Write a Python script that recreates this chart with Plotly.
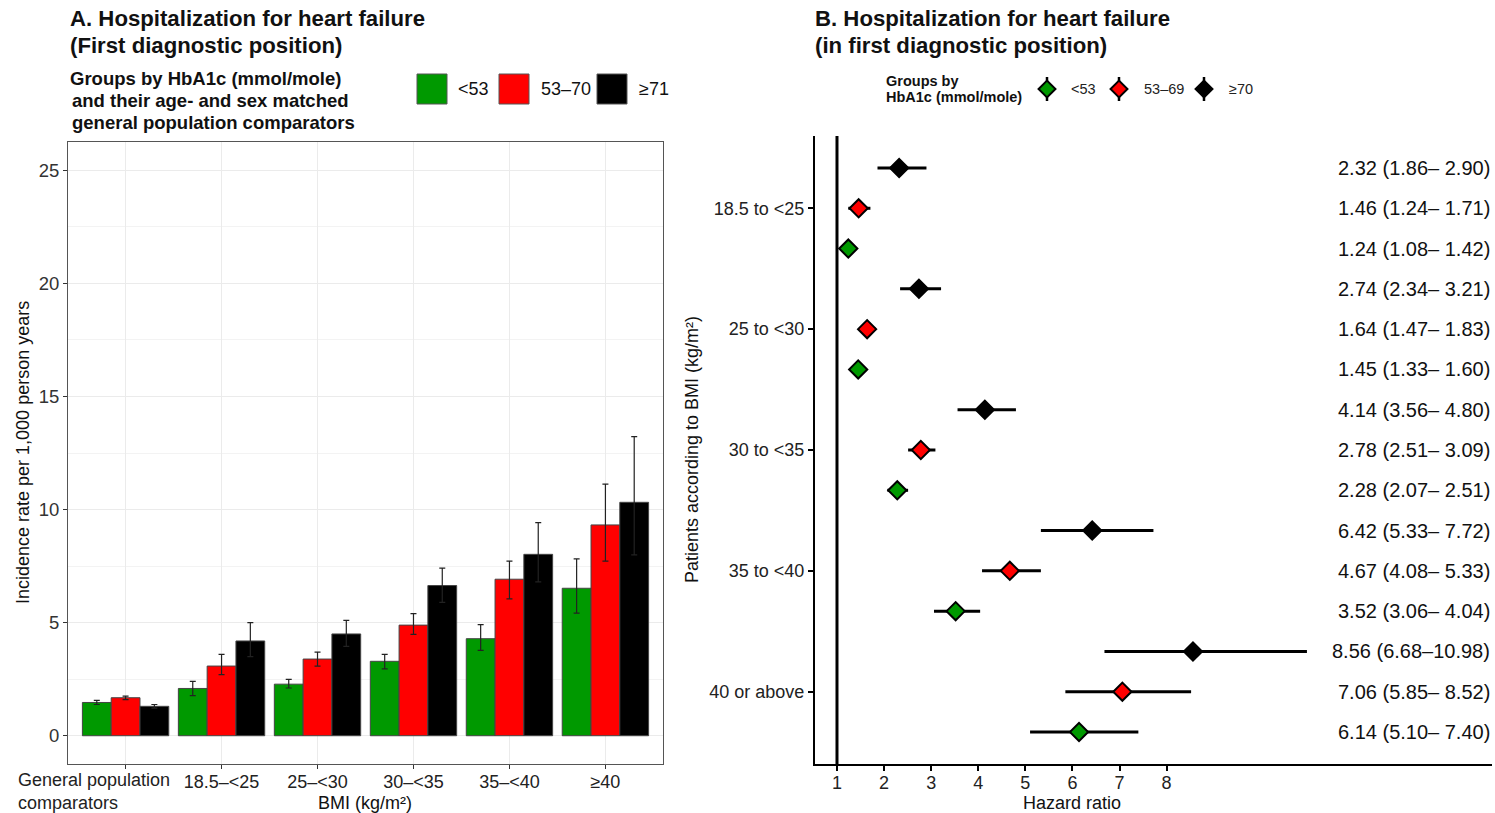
import plotly.graph_objects as go

W, H = 1495, 813
FONT = "Liberation Sans, Arial, Helvetica, sans-serif"

# ---------------- Panel A data ----------------
bmi_groups = ["General population comparators", "18.5–<25", "25–<30", "30–<35", "35–<40", "≥40"]
hba1c_a = ["<53", "53–70", "≥71"]
rate_lt53 = [1.47, 2.09, 2.28, 3.29, 4.29, 6.52]
rate_lt53_lo = [1.38, 1.77, 2.11, 2.96, 3.77, 5.42]
rate_lt53_hi = [1.56, 2.40, 2.49, 3.60, 4.91, 7.82]
rate_53_70 = [1.68, 3.08, 3.39, 4.89, 6.92, 9.32]
rate_53_70_lo = [1.60, 2.70, 3.08, 4.48, 6.05, 7.72]
rate_53_70_hi = [1.75, 3.60, 3.70, 5.40, 7.72, 11.12]
rate_ge71 = [1.30, 4.19, 4.50, 6.64, 8.02, 10.32]
rate_ge71_lo = [1.22, 3.50, 3.95, 5.90, 6.80, 8.00]
rate_ge71_hi = [1.38, 5.00, 5.10, 7.41, 9.42, 13.22]
y_ticks_a = [0, 5, 10, 15, 20, 25]

# ---------------- Panel B data ----------------
bmi_b = ["18.5 to <25", "25 to <30", "30 to <35", "35 to <40", "40 or above"]
hba1c_b = ["<53", "53–69", "≥70"]
hr_lt53 = [1.24, 1.45, 2.28, 3.52, 6.14]
hr_lt53_lo = [1.08, 1.33, 2.07, 3.06, 5.10]
hr_lt53_hi = [1.42, 1.60, 2.51, 4.04, 7.40]
hr_53_69 = [1.46, 1.64, 2.78, 4.67, 7.06]
hr_53_69_lo = [1.24, 1.47, 2.51, 4.08, 5.85]
hr_53_69_hi = [1.71, 1.83, 3.09, 5.33, 8.52]
hr_ge70 = [2.32, 2.74, 4.14, 6.42, 8.56]
hr_ge70_lo = [1.86, 2.34, 3.56, 5.33, 6.68]
hr_ge70_hi = [2.90, 3.21, 4.80, 7.72, 10.98]
x_ticks_b = [1, 2, 3, 4, 5, 6, 7, 8]

GREEN, RED, BLACK = "#009900", "#FF0000", "#000000"
colors = [GREEN, RED, BLACK]

fig = go.Figure()

# ---------------- Panel A bars ----------------
series_a = [
    (rate_lt53, rate_lt53_lo, rate_lt53_hi),
    (rate_53_70, rate_53_70_lo, rate_53_70_hi),
    (rate_ge71, rate_ge71_lo, rate_ge71_hi),
]
for name, col, (v, lo, hi) in zip(hba1c_a, colors, series_a):
    fig.add_trace(go.Bar(
        x=bmi_groups, y=v, name=name, xaxis="x", yaxis="y",
        marker=dict(color=col, line=dict(color="#444444", width=1)),
        error_y=dict(type="data", symmetric=False,
                     array=[h - a for h, a in zip(hi, v)],
                     arrayminus=[a - l for a, l in zip(v, lo)],
                     color="#222222", thickness=1.2, width=3),
        showlegend=False,
    ))

# ---------------- Panel B forest ----------------
series_b = [
    (hr_lt53, hr_lt53_lo, hr_lt53_hi, 1),
    (hr_53_69, hr_53_69_lo, hr_53_69_hi, 2),
    (hr_ge70, hr_ge70_lo, hr_ge70_hi, 3),
]
n = len(bmi_b)
for name, col, (v, lo, hi, off) in zip(hba1c_b, colors, series_b):
    ys = [3 * (n - 1 - g) + off for g in range(n)]
    fig.add_trace(go.Scatter(
        x=v, y=ys, mode="markers", name=name, xaxis="x2", yaxis="y2",
        marker=dict(symbol="diamond", size=14, color=col,
                    line=dict(color="black", width=2)),
        error_x=dict(type="data", symmetric=False,
                     array=[h - a for h, a in zip(hi, v)],
                     arrayminus=[a - l for a, l in zip(v, lo)],
                     color="black", thickness=3, width=0),
        showlegend=False,
    ))
    for val, l, h, yy in zip(v, lo, hi, ys):
        fig.add_annotation(
            x=1.0, y=yy, xref="x2 domain", yref="y2", xanchor="right", yanchor="middle",
            text=f"{val:.2f} ({l:.2f}–{h:5.2f})".replace("  ", " "), showarrow=False,
            font=dict(size=20, color="#111111", family=FONT))

# ---------------- overlay (pixel) axis for legends/titles ----------------
def px(x, y, text, size=18, bold=False, xanchor="left", yanchor="middle", color="#111111", align="left", angle=0):
    fig.add_annotation(x=x, y=y, xref="x3", yref="y3", text=f"<b>{text}</b>" if bold else text,
                       showarrow=False, xanchor=xanchor, yanchor=yanchor, align=align, textangle=angle,
                       font=dict(size=size, color=color, family=FONT))

# Titles
px(68, 18, "A. Hospitalization for heart failure", size=22.2, bold=True)
px(68, 45, "(First diagnostic position)", size=22.2, bold=True)
px(813, 18, "B. Hospitalization for heart failure", size=22.2, bold=True)
px(813, 45, "(in first diagnostic position)", size=22.2, bold=True)

# Legend A
px(68, 78, "Groups by HbA1c (mmol/mole)", size=18.5, bold=True)
px(70, 100, "and their age- and sex matched", size=18.5, bold=True)
px(70, 122, "general population comparators", size=18.5, bold=True)
leg_a_x = [417, 499, 597]
leg_a_tx = [456, 539, 637]
for lx, tx, col, lab in zip(leg_a_x, leg_a_tx, colors, hba1c_a):
    fig.add_shape(type="rect", xref="x3", yref="y3", x0=lx, x1=lx + 30, y0=74, y1=104,
                  fillcolor=col, line=dict(color="#555555", width=1))
    px(tx, 89, lab, size=18)

# Legend B
px(884, 81, "Groups by", size=14.5, bold=True)
px(884, 97, "HbA1c (mmol/mole)", size=14.5, bold=True)
leg_b_x = [1047, 1119, 1204]
leg_b_tx = [1069, 1142, 1227]
for lx, tx, col, lab in zip(leg_b_x, leg_b_tx, colors, hba1c_b):
    fig.add_trace(go.Scatter(x=[lx, lx], y=[77, 101], mode="lines", xaxis="x3", yaxis="y3",
                             line=dict(color="black", width=2.5), showlegend=False, hoverinfo="skip"))
    fig.add_trace(go.Scatter(x=[lx], y=[89], mode="markers", xaxis="x3", yaxis="y3",
                             marker=dict(symbol="diamond", size=13, color=col, line=dict(color="black", width=2)),
                             showlegend=False, hoverinfo="skip"))
    px(tx, 89, lab, size=14.5, color="#222222")

# Axis titles
px(23, 453, "Incidence rate per 1,000 person years", size=18, xanchor="center", angle=-90)
px(365, 803, "BMI (kg/m²)", size=18, xanchor="center")
px(16, 768, "General population<br>comparators", size=18, yanchor="top", color="#222222")
px(692, 450, "Patients according to BMI (kg/m²)", size=18, xanchor="center", angle=-90)
px(1072, 803, "Hazard ratio", size=18, xanchor="center")

# Reference line at HR = 1
fig.add_shape(type="line", xref="x2", yref="y2 domain", x0=1, x1=1, y0=0, y1=1,
              line=dict(color="black", width=3), layer="below")

fig.update_layout(
    width=W, height=H, margin=dict(l=0, r=0, t=0, b=0),
    paper_bgcolor="white", plot_bgcolor="rgba(0,0,0,0)",
    barmode="group", bargap=0.1, bargroupgap=0,
    font=dict(family=FONT, size=18, color="#222222"),
    showlegend=False,
    xaxis=dict(domain=[68 / W, 663 / W], type="category", range=[-0.6, 5.6],
               tickvals=bmi_groups, ticktext=[""] + bmi_groups[1:],
               showgrid=True, gridcolor="#EBEBEB", gridwidth=1.3,
               showline=True, mirror=True, linecolor="#555555", linewidth=1,
               ticks="outside", ticklen=4, tickcolor="#333333", ticklabelstandoff=-3,
               tickfont=dict(size=18, color="#222222"), zeroline=False, fixedrange=True),
    yaxis=dict(domain=[(H - 764) / H, (H - 142) / H], range=[-1.25, 26.25],
               tickvals=y_ticks_a, showgrid=True, gridcolor="#EBEBEB", gridwidth=1.3,
               minor=dict(dtick=2.5, tick0=0, showgrid=True, gridcolor="#F3F3F3", gridwidth=1),
               showline=True, mirror=True, linecolor="#555555", linewidth=1,
               ticks="outside", ticklen=4, tickcolor="#333333",
               tickfont=dict(size=18.5, color="#333333"), zeroline=False),
    xaxis2=dict(domain=[815 / W, 1492 / W], range=[0.533, 14.91], anchor="y2",
                tickvals=x_ticks_b, showgrid=False, zeroline=False,
                showline=True, linecolor="black", linewidth=2,
                ticks="outside", ticklen=5, tickwidth=1.5, tickcolor="black", ticklabelstandoff=-4,
                tickfont=dict(size=18, color="#222222")),
    yaxis2=dict(domain=[(H - 764) / H, (H - 136) / H], range=[0.206, 15.794], anchor="x2",
                tickvals=[3 * (n - 1 - g) + 2 for g in range(n)], ticktext=bmi_b,
                showgrid=False, zeroline=False,
                showline=True, linecolor="black", linewidth=2,
                ticks="outside", ticklen=5, tickwidth=1.5, tickcolor="black",
                tickfont=dict(size=18, color="#222222")),
    xaxis3=dict(domain=[0, 1], range=[0, W], visible=False, anchor="y3", fixedrange=True),
    yaxis3=dict(domain=[0, 1], range=[H, 0], visible=False, anchor="x3", fixedrange=True),
)

fig.write_html("out.html")
